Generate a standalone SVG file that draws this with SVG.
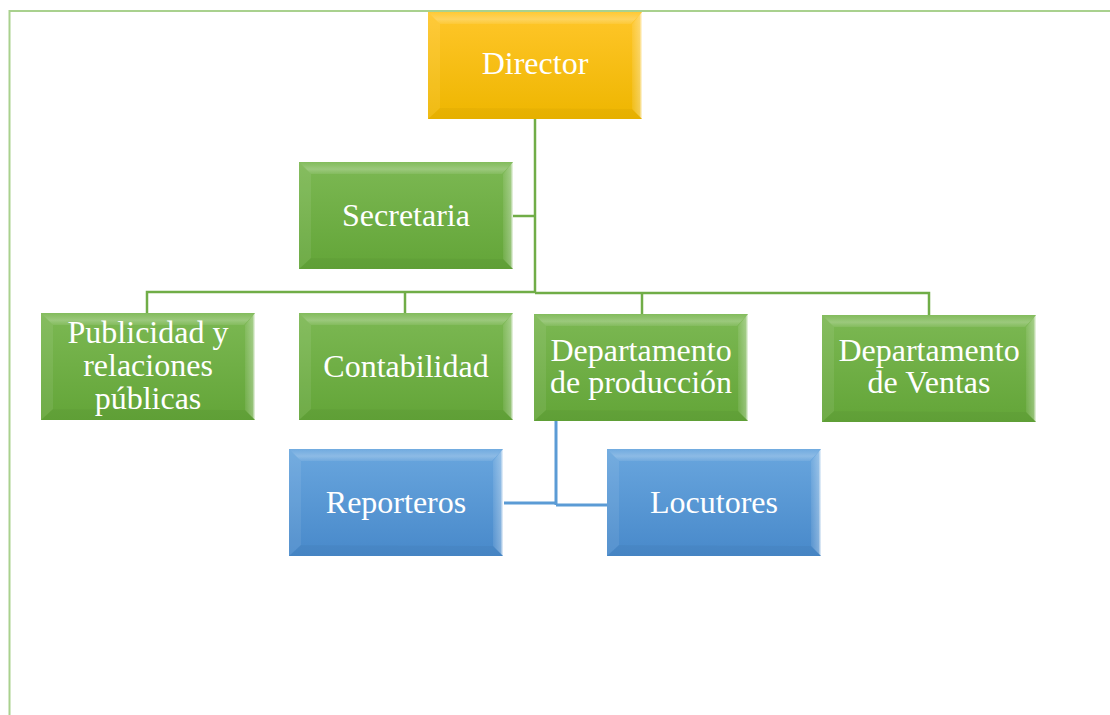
<svg xmlns="http://www.w3.org/2000/svg" xmlns:xlink="http://www.w3.org/1999/xlink" width="1110" height="715" viewBox="0 0 1110 715">
<style>
.lbl{font-family:"Liberation Serif","Times New Roman",serif;font-size:32px;fill:#ffffff;text-anchor:middle}
.cg{fill:none;stroke:#70ad47;stroke-width:2.5}
.cb{fill:none;stroke:#5b9bd5;stroke-width:3}
.frame{fill:none;stroke:#a9d18e;stroke-width:2}
</style>
<defs>
<linearGradient id="gG" x1="0" y1="0" x2="0" y2="1"><stop offset="0" stop-color="#7cb853"/><stop offset="1" stop-color="#63a538"/></linearGradient>
<linearGradient id="gY" x1="0" y1="0" x2="0" y2="1"><stop offset="0" stop-color="#ffc62a"/><stop offset="1" stop-color="#eeb600"/></linearGradient>
<linearGradient id="gB" x1="0" y1="0" x2="0" y2="1"><stop offset="0" stop-color="#69a6de"/><stop offset="1" stop-color="#4889ca"/></linearGradient>
<linearGradient id="gR" x1="0" y1="0" x2="1" y2="0"><stop offset="0" stop-color="#ffffff" stop-opacity="0.08"/><stop offset="0.75" stop-color="#ffffff" stop-opacity="0.3"/><stop offset="1" stop-color="#ffffff" stop-opacity="0.9"/></linearGradient>
<linearGradient id="gT" x1="0" y1="0" x2="0" y2="1"><stop offset="0" stop-color="#ffffff" stop-opacity="0.05"/><stop offset="0.6" stop-color="#ffffff" stop-opacity="0.25"/><stop offset="1" stop-color="#ffffff" stop-opacity="0.08"/></linearGradient>
<g id="bevel">
<polygon points="0,0 214,0 203,12 12,12" fill="url(#gT)"/>
<polygon points="0,0 12,12 12,96 0,107" fill="#ffffff" fill-opacity="0.08"/>
<polygon points="214,0 214,107 204,97 204,12" fill="url(#gR)"/>
<polygon points="0,107 12,96 204,97 214,107" fill="#000000" fill-opacity="0.03"/>
</g>
</defs>
<path class="frame" d="M9.5 715 V11 H1110"/>
<g id="connectors">
<path class="cg" d="M535 118 V293"/>
<path class="cg" d="M513 216 H535"/>
<path class="cg" d="M147 313 V292 H535"/>
<path class="cg" d="M535 293 H929 V315"/>
<path class="cg" d="M405 292 V313"/>
<path class="cg" d="M642 293 V314"/>
<path class="cb" d="M556 421 V505"/>
<path class="cb" d="M504 503 H556"/>
<path class="cb" d="M556 505 H607"/>
</g>
<g id="director" transform="translate(428,12)">
<rect width="214" height="107" fill="url(#gY)"/><use xlink:href="#bevel"/>
<text class="lbl" x="107" y="62">Director</text>
</g>
<g id="secretaria" transform="translate(299,162)">
<rect width="214" height="107" fill="url(#gG)"/><use xlink:href="#bevel"/>
<text class="lbl" x="107" y="64">Secretaria</text>
</g>
<g id="publicidad" transform="translate(41,313)">
<rect width="214" height="107" fill="url(#gG)"/><use xlink:href="#bevel"/>
<text class="lbl" x="107" y="30">Publicidad y</text>
<text class="lbl" x="107" y="63">relaciones</text>
<text class="lbl" x="107" y="96">públicas</text>
</g>
<g id="contabilidad" transform="translate(299,313)">
<rect width="214" height="107" fill="url(#gG)"/><use xlink:href="#bevel"/>
<text class="lbl" x="107" y="64">Contabilidad</text>
</g>
<g id="produccion" transform="translate(534,314)">
<rect width="214" height="107" fill="url(#gG)"/><use xlink:href="#bevel"/>
<text class="lbl" x="107" y="47">Departamento</text>
<text class="lbl" x="107" y="79">de producción</text>
</g>
<g id="ventas" transform="translate(822,315)">
<rect width="214" height="107" fill="url(#gG)"/><use xlink:href="#bevel"/>
<text class="lbl" x="107" y="46">Departamento</text>
<text class="lbl" x="107" y="78">de Ventas</text>
</g>
<g id="reporteros" transform="translate(289,449)">
<rect width="214" height="107" fill="url(#gB)"/><use xlink:href="#bevel"/>
<text class="lbl" x="107" y="64">Reporteros</text>
</g>
<g id="locutores" transform="translate(607,449)">
<rect width="214" height="107" fill="url(#gB)"/><use xlink:href="#bevel"/>
<text class="lbl" x="107" y="64">Locutores</text>
</g>
</svg>
